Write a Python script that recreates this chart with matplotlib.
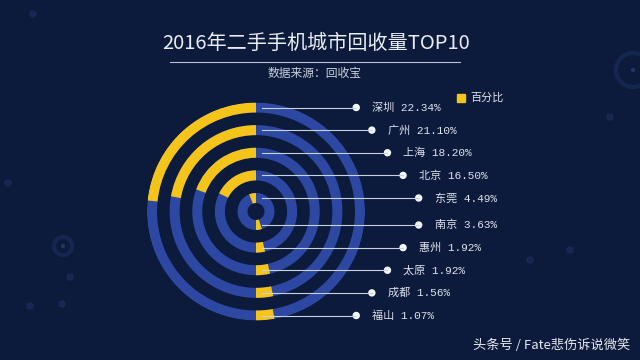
import numpy as np
import matplotlib.pyplot as plt
from matplotlib.patches import Circle, Rectangle

plt.rcParams['font.family'] = ['Noto Sans CJK SC', 'DejaVu Sans']

# data
cities = ['深圳', '广州', '上海', '北京', '东莞', '南京', '惠州', '太原', '成都', '福山']
shares = [22.34, 21.10, 18.20, 16.50, 4.49, 3.63, 1.92, 1.92, 1.56, 1.07]

title = '2016年二手手机城市回收量TOP10'
subtitle = '数据来源：回收宝'
legend_label = '百分比'
credit = '头条号 / Fate悲伤诉说微笑'

BG = '#0c1a3b'
RING = '#2d48a2'
GOLD = '#f5c41a'
TEXT = '#dde3ec'

W, H = 640, 360
CX, CY, R = 256, 211.5, 109  # ring centre / outer radius, pixels
RING_W = 10
DEG_PER_PCT = 3.5
MIN_ARC = 6  # degrees

fig = plt.figure(figsize=(6.4, 3.6), dpi=100, facecolor=BG)

# rings
ax = fig.add_axes([(CX - R) / W, (H - CY - R) / H, 2 * R / W, 2 * R / H],
                  projection='polar')
ax.set_theta_zero_location('N')
ax.set_theta_direction(1)
ax.set_ylim(0, R)
ax.axis('off')

mids = np.linspace(R - RING_W / 2, 13.5, 5)        # outer -> inner
radii = list(mids) + list(mids[::-1])              # top half, then bottom half
starts = [0.0] * 5 + [np.pi] * 5

full = np.linspace(0, 2 * np.pi, 361)
for r in mids:
    ax.plot(full, np.full_like(full, r), color=RING, lw=RING_W * 0.72,
            solid_capstyle='butt', zorder=1)

for p, r, s in zip(shares, radii, starts):
    th = np.deg2rad(MIN_ARC + DEG_PER_PCT * p)
    ax.bar(s, RING_W, width=th, bottom=r - RING_W / 2, align='edge',
           color=GOLD, linewidth=0, zorder=2)

# overlay in pixel coordinates (y down) for text, leaders, decoration
bg = fig.add_axes([0, 0, 1, 1], zorder=3)
bg.set_xlim(0, W)
bg.set_ylim(H, 0)
bg.axis('off')

# faint background decoration
for (x, y, r) in [(63, 246, 9), (633, 70, 17)]:
    bg.add_patch(Circle((x, y), r, fill=False, ec='#1c3160', lw=3, alpha=0.6))
    bg.add_patch(Circle((x, y), 1.5, color='#2a4478', alpha=0.6))
for (x, y) in [(33, 14), (8, 183), (70, 277), (30, 306), (610, 117), (530, 260), (570, 250), (62, 304)]:
    bg.add_patch(Circle((x, y), 3, color='#1a2d5a', alpha=0.7))

# leader lines and labels
to_bg = bg.transData.inverted()
for city, p, r, s in zip(cities, shares, radii, starts):
    _, y = to_bg.transform(ax.transData.transform((s, r)))
    x_dot = CX + 172 - 0.69 * r
    bg.plot([CX + 6, x_dot], [y, y], color='#c9d2e0', lw=0.8)
    bg.add_patch(Circle((x_dot, y), 3, color='#f2f5fa'))
    bg.text(x_dot + 16, y, f'{city} {p:.2f}%', color=TEXT, fontsize=8,
            va='center', ha='left', family=['Liberation Mono', 'Noto Sans CJK SC'])

# legend
bg.add_patch(Rectangle((457, 94), 8, 8, color=GOLD))
bg.text(470, 98, legend_label, color=TEXT, fontsize=8, va='center', ha='left')

# titles
bg.text(316, 43, title, color='#e9eef5', fontsize=14.5, ha='center', va='center')
bg.plot([170, 460], [61.5, 61.5], color='#b8c2d4', lw=0.8)
bg.text(315, 73.5, subtitle, color='#c9d1dd', fontsize=8.5, ha='center', va='center')
bg.text(630, 345, credit, color='#e6eaf0', fontsize=9.5, ha='right', va='center')

fig.savefig('out.png', dpi=100, facecolor=BG)
